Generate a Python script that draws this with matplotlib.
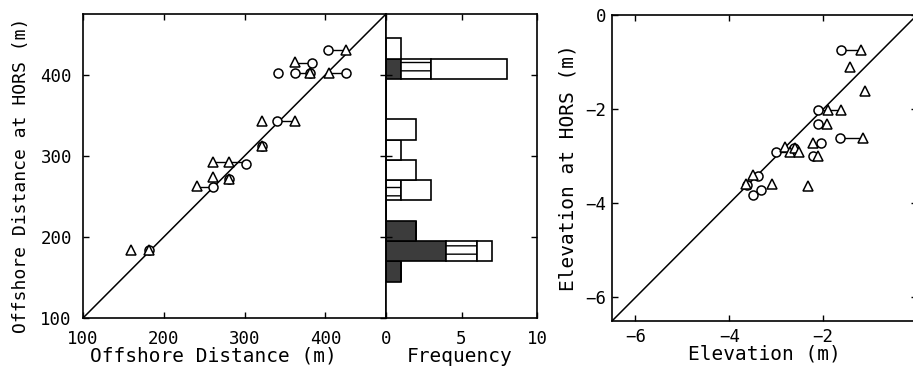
import matplotlib
matplotlib.use("Agg")
import matplotlib.pyplot as plt
import numpy as np

plt.rcParams['font.family'] = ['DejaVu Sans Mono']
plt.rcParams['hatch.linewidth'] = 1.0

# --- offshore distance panel: circles, triangles and the links between them
circ_x = [403, 341, 383, 362, 381, 425, 340, 322, 302, 281, 261, 182]
circ_y = [431, 402, 414, 402, 402, 402, 343, 312, 290, 272, 261, 184]
tri_x = [425, 362, 381, 404, 321, 362, 322, 261, 281, 261, 281, 241, 160, 182]
tri_y = [431, 416, 402, 402, 343, 343, 312, 293, 293, 274, 272, 263, 184, 184]
links_x0 = [403, 362, 362, 404, 340, 261, 241]
links_x1 = [425, 383, 381, 425, 362, 302, 261]
links_y = [431, 415, 402, 402, 343, 292, 262]

# --- frequency histogram (bins of 25 m)
bin_lo = [145, 170, 195, 220, 245, 270, 295, 320, 345, 370, 395, 420]
n_dark = [1, 4, 2, 0, 0, 0, 0, 0, 0, 0, 1, 0]
n_hatch = [0, 2, 0, 0, 1, 0, 0, 0, 0, 0, 2, 0]
n_white = [0, 1, 0, 0, 2, 2, 1, 2, 0, 0, 5, 1]

# --- elevation panel
e_circ_x = [-1.62, -2.12, -2.12, -1.65, -2.04, -2.21, -3.01, -2.62, -3.39, -3.49, -3.32, -3.62]
e_circ_y = [-0.74, -2.01, -2.31, -2.61, -2.72, -3.00, -2.92, -2.82, -3.43, -3.82, -3.71, -3.62]
e_tri_x = [-1.20, -1.43, -1.11, -1.89, -1.62, -1.91, -1.15, -2.21, -2.11, -2.33,
           -2.82, -2.70, -2.60, -2.52, -3.49, -3.64, -3.10]
e_tri_y = [-0.74, -1.11, -1.61, -2.01, -2.01, -2.31, -2.61, -2.72, -3.00, -3.64,
           -2.80, -2.90, -2.82, -2.90, -3.39, -3.60, -3.60]
e_links_x0 = [-1.62, -2.12, -2.12, -1.65, -3.01]
e_links_x1 = [-1.20, -1.62, -1.91, -1.15, -2.82]
e_links_y = [-0.74, -2.01, -2.31, -2.61, -2.90]

W, H = 913, 386
fig = plt.figure(figsize=(W / 100, H / 100), dpi=100)

def frac(l, t, r, b):
    return [l / W, 1 - b / H, (r - l) / W, (b - t) / H]

ax1 = fig.add_axes(frac(83, 14, 386, 318))
ax2 = fig.add_axes(frac(386, 14, 537, 318))
ax3 = fig.add_axes(frac(612, 15, 917, 321))

tick_kw = dict(direction='in', length=4, width=1, labelsize=12.5,
               top=True, right=True)
mk_c = dict(marker='o', ms=6.5, mfc='white', mec='black', mew=1.1, ls='none')
mk_t = dict(marker='^', ms=7.5, mfc='white', mec='black', mew=1.1, ls='none')

# left panel
ax1.plot([100, 475], [100, 475], color='black', lw=1.1)
for x0, x1, y in zip(links_x0, links_x1, links_y):
    ax1.plot([x0, x1], [y, y], color='black', lw=1)
ax1.plot(circ_x, circ_y, **mk_c)
ax1.plot(tri_x, tri_y, **mk_t)
ax1.set_xlim(100, 475)
ax1.set_ylim(100, 475)
ax1.set_xticks([100, 200, 300, 400])
ax1.set_yticks([100, 200, 300, 400])
ax1.tick_params(**tick_kw)
ax1.tick_params(axis='x', pad=9)
ax1.tick_params(axis='y', pad=8)
ax1.set_xlabel('Offshore Distance (m)', fontsize=14)
ax1.set_ylabel('Offshore Distance at HORS (m)', fontsize=13)
ax1.xaxis.set_label_coords(0.43, -0.095)
ax1.yaxis.set_label_coords(-0.175, 0.47)

# histogram
lo = np.array(bin_lo)
d = np.array(n_dark)
h = np.array(n_hatch)
w = np.array(n_white)
bar_kw = dict(height=25, align='edge', edgecolor='black', linewidth=1.2)
ax2.barh(lo, d, left=0, color='#3c3c3c', **bar_kw)
ax2.barh(lo, h, left=d, color='white', hatch='--', **bar_kw)
ax2.barh(lo, w, left=d + h, color='white', **bar_kw)
ax2.set_xlim(0, 10)
ax2.set_ylim(100, 475)
ax2.set_xticks([0, 5, 10])
ax2.set_yticks([200, 300, 400])
ax2.tick_params(labelleft=False, **tick_kw)
ax2.tick_params(axis='x', pad=9)
ax2.set_xlabel('Frequency', fontsize=14)
ax2.xaxis.set_label_coords(0.49, -0.095)

# elevation panel
ax3.plot([-6.5, 0], [-6.5, 0], color='black', lw=1.1)
for x0, x1, y in zip(e_links_x0, e_links_x1, e_links_y):
    ax3.plot([x0, x1], [y, y], color='black', lw=1)
ax3.plot(e_circ_x, e_circ_y, **mk_c)
ax3.plot(e_tri_x, e_tri_y, **mk_t)
ax3.set_xlim(-6.5, 0)
ax3.set_ylim(-6.5, 0)
ax3.set_xticks([-6, -4, -2, 0])
ax3.set_yticks([-6, -4, -2, 0])
ax3.set_xticklabels(['\u22126', '\u22124', '\u22122', '0'])
ax3.set_yticklabels(['\u22126', '\u22124', '\u22122', '0'])
ax3.tick_params(**tick_kw)
ax3.tick_params(axis='x', pad=5)
ax3.tick_params(axis='y', pad=4)
ax3.set_xlabel('Elevation (m)', fontsize=14)
ax3.set_ylabel('Elevation at HORS (m)', fontsize=14)
ax3.xaxis.set_label_coords(0.5, -0.078)
ax3.yaxis.set_label_coords(-0.113, 0.5)

for ax in (ax1, ax2, ax3):
    for s in ax.spines.values():
        s.set_linewidth(1.2)

fig.savefig('out.png', dpi=100)
